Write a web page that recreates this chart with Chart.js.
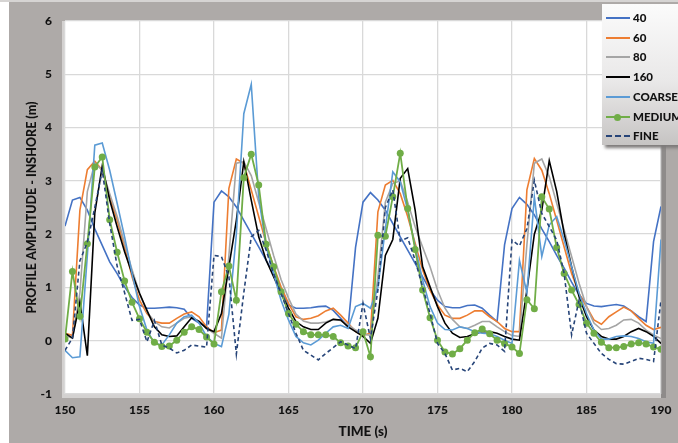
<!DOCTYPE html>
<html>
<head>
<meta charset="utf-8">
<script src="https://cdn.jsdelivr.net/npm/chart.js@4/dist/chart.umd.min.js"></script>
<style>
  html, body { margin: 0; padding: 0; background: #ffffff; }
  #wrap { position: relative; width: 678px; height: 443px; overflow: hidden; }
  #chart { position: absolute; left: 0; top: 0; }
  #legend {
    position: absolute; left: 602px; top: 4px; width: 82px; height: 141px;
    background: linear-gradient(#fbfbfb, #e9e8e8 55%, #c6c4c3);
    box-shadow: 3px 3px 3px #7d7a79;
    font: 900 11.5px Lato, "Open Sans", Arial, sans-serif;
    color: #111111;
  }
  .row { position: absolute; left: 4px; height: 14px; line-height: 14px; }
  .swatch { position: absolute; left: 0; top: 6px; width: 24px; height: 0; }
  .dot { position: absolute; left: 8px; top: -3.5px; width: 7px; height: 7px; border-radius: 50%; background: #70ad47; }
  .label { position: absolute; left: 27px; top: 0; white-space: nowrap; }
</style>
</head>
<body>
<div id="wrap">
  <canvas id="chart" width="678" height="443"></canvas>
  <div id="legend"></div>
</div>
<script>
const times = [
  150, 150.5, 151, 151.5, 152, 152.5, 153, 153.5, 154, 154.5,
  155, 155.5, 156, 156.5, 157, 157.5, 158, 158.5, 159, 159.5,
  160, 160.5, 161, 161.5, 162, 162.5, 163, 163.5, 164, 164.5,
  165, 165.5, 166, 166.5, 167, 167.5, 168, 168.5, 169, 169.5,
  170, 170.5, 171, 171.5, 172, 172.5, 173, 173.5, 174, 174.5,
  175, 175.5, 176, 176.5, 177, 177.5, 178, 178.5, 179, 179.5,
  180, 180.5, 181, 181.5, 182, 182.5, 183, 183.5, 184, 184.5,
  185, 185.5, 186, 186.5, 187, 187.5, 188, 188.5, 189, 189.5,
  190
];

const s40 = [
  2.15, 2.64, 2.69, 2.45, 2.10, 1.79, 1.48, 1.26, 1.01, 0.81,
  0.67, 0.61, 0.61, 0.62, 0.63, 0.62, 0.59, 0.42, 0.33, 0.26,
  2.60, 2.81, 2.70, 2.51, 2.26, 2.01, 1.76, 1.51, 1.26, 0.95,
  0.67, 0.61, 0.61, 0.62, 0.64, 0.65, 0.57, 0.42, 0.26, 1.75,
  2.60, 2.78, 2.64, 2.45, 2.20, 1.95, 1.70, 1.45, 1.20, 0.95,
  0.76, 0.64, 0.62, 0.62, 0.66, 0.67, 0.61, 0.48, 0.36, 1.80,
  2.48, 2.69, 2.56, 2.36, 2.10, 1.86, 1.60, 1.36, 1.10, 0.86,
  0.70, 0.65, 0.64, 0.66, 0.68, 0.65, 0.56, 0.45, 0.36, 1.86,
  2.52
];

const s60 = [
  0.14, 0.10, 2.45, 3.21, 3.37, 3.20, 2.70, 2.26, 1.76, 1.20,
  0.76, 0.51, 0.36, 0.33, 0.33, 0.42, 0.50, 0.54, 0.45, 0.26,
  0.15, 0.20, 2.86, 3.41, 3.33, 2.83, 2.33, 1.83, 1.39, 1.01,
  0.70, 0.45, 0.40, 0.42, 0.47, 0.56, 0.61, 0.48, 0.33, 0.17,
  0.10, 0.14, 2.42, 2.92, 3.01, 2.76, 2.33, 1.83, 1.33, 0.95,
  0.67, 0.48, 0.42, 0.42, 0.48, 0.56, 0.56, 0.45, 0.36, 0.23,
  0.17, 0.17, 2.83, 3.42, 3.20, 2.76, 2.26, 1.76, 1.26, 0.89,
  0.64, 0.39, 0.31, 0.45, 0.54, 0.63, 0.56, 0.42, 0.29, 0.21,
  0.25
];

const s80 = [
  0.10, 0.05, 0.90, 2.80, 3.33, 3.20, 2.76, 2.33, 1.83, 1.33,
  0.89, 0.54, 0.36, 0.26, 0.24, 0.33, 0.42, 0.45, 0.36, 0.23,
  0.14, 0.05, 1.60, 3.33, 3.36, 3.10, 2.60, 2.10, 1.60, 1.15,
  0.80, 0.50, 0.37, 0.33, 0.33, 0.35, 0.40, 0.38, 0.30, 0.20,
  0.12, 0.10, 1.20, 2.60, 2.95, 3.00, 2.60, 2.14, 1.76, 1.39,
  0.95, 0.61, 0.40, 0.26, 0.23, 0.29, 0.36, 0.36, 0.26, 0.17,
  0.10, 0.08, 1.80, 3.33, 3.41, 3.08, 2.58, 2.08, 1.58, 1.08,
  0.64, 0.33, 0.21, 0.23, 0.29, 0.39, 0.40, 0.33, 0.20, 0.11,
  0.04
];

const s160 = [
  0.14, 0.05, 0.73, -0.28, 2.40, 3.28, 2.64, 2.14, 1.67, 1.26,
  0.89, 0.57, 0.26, 0.11, 0.08, 0.09, 0.26, 0.43, 0.36, 0.23,
  0.17, 0.51, 1.39, 2.26, 3.36, 2.64, 1.95, 1.51, 1.20, 0.89,
  0.61, 0.36, 0.26, 0.21, 0.21, 0.33, 0.40, 0.39, 0.26, 0.17,
  0.08, -0.05, 0.42, 1.60, 1.90, 3.05, 3.23, 2.45, 1.39, 1.01,
  0.64, 0.33, 0.14, 0.06, 0.08, 0.13, 0.17, 0.17, 0.14, 0.08,
  0.03, 0.01, 0.95, 2.00, 2.45, 3.38, 2.80, 2.01, 1.39, 0.83,
  0.45, 0.20, 0.08, 0.03, 0.03, 0.08, 0.17, 0.23, 0.17, 0.08,
  -0.05
];

const sCoarse = [
  -0.18, -0.32, -0.30, 1.60, 3.67, 3.71, 3.20, 2.58, 1.95, 1.26,
  0.64, 0.20, -0.05, -0.08, 0.11, 0.33, 0.45, 0.48, 0.33, 0.08,
  -0.05, -0.11, 0.50, 2.00, 4.26, 4.81, 2.70, 1.76, 1.26, 0.76,
  0.39, 0.08, -0.04, -0.08, 0.01, 0.14, 0.26, 0.29, 0.23, 0.64,
  0.70, 0.61, 1.00, 2.10, 3.17, 2.98, 2.45, 1.76, 1.14, 0.64,
  0.33, 0.21, 0.20, 0.26, 0.23, 0.17, 0.14, 0.13, 0.08, 0.01,
  -0.05, 1.51, 0.90, 2.70, 1.58, 2.17, 2.33, 1.89, 1.39, 0.89,
  0.51, 0.20, 0.03, 0.03, 0.08, 0.09, 0.08, 0.04, -0.02, -0.05,
  1.90
];

const sMedium = [
  0.03, 1.30, 0.46, 1.82, 3.26, 3.45, 2.27, 1.66, 1.12, 0.72,
  0.41, 0.16, -0.03, -0.11, -0.10, 0.01, 0.16, 0.26, 0.21, 0.07,
  -0.06, 0.92, 1.40, 0.76, 3.06, 3.50, 2.92, 1.81, 1.39, 0.92,
  0.51, 0.31, 0.17, 0.11, 0.11, 0.11, 0.08, -0.04, -0.10, -0.13,
  0.17, -0.30, 1.98, 1.96, 2.70, 3.52, 2.48, 1.71, 0.95, 0.43,
  0.01, -0.21, -0.25, -0.15, 0.01, 0.15, 0.22, 0.13, 0.01, -0.05,
  -0.12, -0.24, 0.77, 0.60, 2.70, 2.47, 1.75, 1.26, 0.95, 0.68,
  0.33, 0.14, -0.03, -0.13, -0.13, -0.11, -0.06, -0.04, -0.06, -0.12,
  -0.16
];

const sFine = [
  -0.18, 0.05, 1.50, 1.85, 2.50, 3.20, 2.20, 1.40, 0.90, 0.38,
  0.40, -0.02, 0.38, -0.08, -0.14, -0.23, -0.18, -0.08, -0.10, -0.12,
  1.60, 1.58, 1.20, -0.25, 0.90, 1.95, 2.07, 1.70, 1.26, 0.89,
  0.51, 0.14, -0.18, -0.27, -0.36, -0.24, -0.13, -0.02, -0.08, -0.15,
  0.70, 0.04, 0.95, 2.50, 2.83, 1.87, 1.93, 1.51, 1.01, 0.51,
  -0.05, -0.24, -0.55, -0.52, -0.58, -0.39, -0.14, -0.05, -0.08, -0.20,
  1.89, 1.78, 2.10, 3.01, 2.39, 2.14, 1.89, 1.26, 0.11, 0.76,
  0.14, -0.05, -0.24, -0.35, -0.43, -0.44, -0.39, -0.33, -0.35, -0.39,
  0.76
];

const seriesNames = ['40', '60', '80', '160', 'COARSE', 'MEDIUM', 'FINE'];
const seriesValues = [s40, s60, s80, s160, sCoarse, sMedium, sFine];
const seriesColors = ['#4472c4', '#ed7d31', '#a5a5a5', '#000000', '#5b9bd5', '#70ad47', '#264478'];

const xTicks = [150, 155, 160, 165, 170, 175, 180, 185, 190];
const yTicks = [-1, 0, 1, 2, 3, 4, 5, 6];

const FONT = 'Lato, "Open Sans", Arial, sans-serif';
const INK = '#111111';

const datasets = seriesNames.map((name, i) => ({
  label: name,
  data: times.map((t, j) => ({ x: t, y: seriesValues[i][j] })),
  borderColor: seriesColors[i],
  backgroundColor: seriesColors[i],
  borderWidth: name === 'MEDIUM' ? 1.8 : 1.6,
  borderDash: name === 'FINE' ? [4, 3] : [],
  pointRadius: name === 'MEDIUM' ? 3.5 : 0,
  pointBorderWidth: 0,
  tension: 0,
  order: seriesNames.length - i,
}));

// gray frame and shaded plot box, like the spreadsheet export
const framePlugin = {
  id: 'frame',
  beforeDraw(chart) {
    const { ctx, chartArea: a } = chart;
    ctx.save();
    ctx.fillStyle = '#d6d4d3';
    ctx.fillRect(0, 0, chart.width, 2);
    ctx.fillStyle = '#aeaaa8';
    ctx.fillRect(9, 2, chart.width - 9, chart.height - 2);
    ctx.fillStyle = '#8e8b8a';
    ctx.fillRect(a.right, a.top + 2, 5, a.bottom - a.top + 2);
    ctx.fillStyle = '#d3d1d0';
    ctx.fillRect(a.left - 3, a.top, 3, a.bottom - a.top + 4);
    ctx.fillRect(a.left - 3, a.bottom, a.right - a.left + 3, 4);
    ctx.fillStyle = '#ffffff';
    ctx.fillRect(a.left, a.top, a.right - a.left, a.bottom - a.top);
    ctx.restore();
  },
};

new Chart(document.getElementById('chart'), {
  type: 'line',
  data: { datasets },
  options: {
    responsive: false,
    animation: false,
    layout: { padding: { left: 0, top: 21, right: 17, bottom: 0 } },
    plugins: { legend: { display: false }, tooltip: { enabled: false } },
    scales: {
      x: {
        type: 'linear',
        min: 150,
        max: 190,
        afterBuildTicks: axis => { axis.ticks = xTicks.map(v => ({ value: v })); },
        afterFit: axis => {
          axis.height = 49;
          axis.paddingLeft = 0;
          axis.paddingRight = 0;
        },
        grid: { color: '#d9d9d9', lineWidth: 1.3, drawTicks: false },
        border: { display: false },
        ticks: { padding: 9, color: INK, font: { family: FONT, size: 12, weight: 900 }, maxRotation: 0 },
        title: { display: true, text: 'TIME (s)', color: INK, font: { family: FONT, size: 13.5, weight: 900 }, padding: { top: 0, bottom: 3 } },
      },
      y: {
        min: -1,
        max: 6,
        afterBuildTicks: axis => { axis.ticks = yTicks.map(v => ({ value: v })); },
        afterFit: axis => { axis.width = 65; },
        grid: { color: '#d9d9d9', lineWidth: 1.3, drawTicks: false },
        border: { display: false },
        ticks: { padding: 13, color: INK, font: { family: FONT, size: 12, weight: 900 } },
        title: { display: true, text: 'PROFILE AMPLITUDE - INSHORE (m)', color: INK, font: { family: FONT, size: 12.5, weight: 900 }, padding: { top: 24, bottom: 0 } },
      },
    },
  },
  plugins: [framePlugin],
});

// legend box drawn as html, sitting over the top right of the plot
const legendEl = document.getElementById('legend');
seriesNames.forEach((name, i) => {
  const row = document.createElement('div');
  row.className = 'row';
  row.style.top = (7 + i * 19.7) + 'px';
  const sw = document.createElement('div');
  sw.className = 'swatch';
  sw.style.borderTop = (name === 'FINE' ? '2px dashed ' : '2px solid ') + seriesColors[i];
  if (name === 'MEDIUM') {
    const dot = document.createElement('div');
    dot.className = 'dot';
    sw.appendChild(dot);
  }
  const lab = document.createElement('div');
  lab.className = 'label';
  lab.textContent = name;
  row.appendChild(sw);
  row.appendChild(lab);
  legendEl.appendChild(row);
});
</script>
</body>
</html>
